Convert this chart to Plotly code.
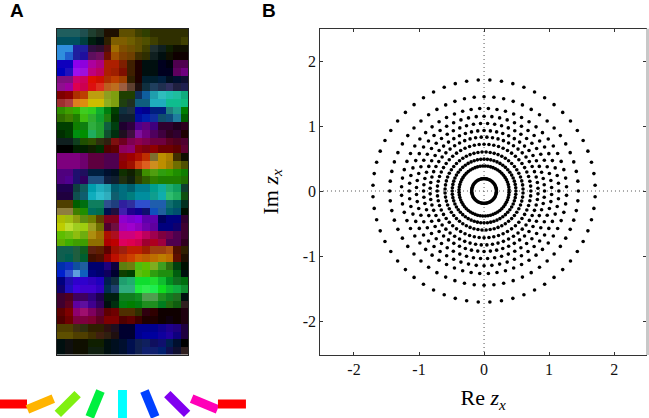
import plotly.graph_objects as go
import numpy as np

W, H = 649, 418

# Panel A: colour of each cell (3-digit hex)
map_rows = [
"266 266 266 255 243 232 210 210 650 650 440 340 330 330 330 330 330",
"056 056 056 044 021 011 320 860 860 760 650 550 440 330 330 330 440",
"39e 39e 22a 22a 314 313 511 a70 850 750 650 440 233 122 120 110 110",
"39e 26d 22a 21a 616 716 710 a50 840 740 430 330 122 011 110 100 100",
"10c 10c 90f 90e b0a b08 b20 b20 820 420 200 011 011 002 001 505 505",
"00c 21c a1f a1e c08 c06 b20 a20 810 420 200 011 011 002 002 606 708",
"818 818 d07 d06 e10 d10 b30 c40 a40 320 200 023 023 024 012 013 113",
"919 a0a e05 d05 e11 e32 c62 c72 a64 643 211 134 246 235 336 224 225",
"800 900 b30 c40 ca1 ca1 9a2 8a1 240 240 136 16a 2ab 3cc 2cb 2ca 1b8",
"a33 b44 e82 e91 dc0 dc0 9b2 8a1 241 232 168 168 2bc 2bc 1c9 1c9 1c8",
"390 4a0 3b0 4d2 3d2 1b3 081 040 134 234 00a 009 028 028 288 2a9 080",
"370 480 280 4c1 3b3 1a3 281 030 123 123 01a 02b 13a 157 158 28a 060",
"040 040 180 181 3b4 2a3 164 041 203 304 509 608 408 303 303 202 302",
"030 040 091 090 2b6 2a3 153 031 212 414 81a 708 506 404 302 303 200",
"122 122 142 250 350 331 321 811 702 805 905 805 704 704 602 502 503",
"000 000 020 020 120 030 500 600 906 907 901 801 900 700 700 600 603",
"808 808 808 707 604 604 505 505 901 a00 b10 c30 873 c90 b80 430 110",
"808 808 808 707 604 604 505 505 900 a10 d41 e62 d92 c90 a80 770 550",
"508 508 217 216 024 024 013 012 130 120 240 490 5a1 3a1 3a0 290 180",
"508 509 217 306 258 258 124 123 231 121 340 360 380 280 280 280 270",
"205 205 144 166 0ab 2bc 2ab 067 078 067 089 089 0a9 1ba 2b7 1a6 143",
"204 204 155 167 1bc 3cd 3bc 167 078 088 09a 09a 1a9 1bb 3c7 2b6 151",
"540 540 060 071 186 186 359 248 32a 33a 35d 35d 26b 26b 177 066 032",
"984 984 480 290 076 075 015 214 42b 209 109 117 15c 26a 067 057 010",
"bc0 ac1 9a1 691 780 640 802 802 90d 80d 80e 60b 60b 006 008 008 303",
"cd0 ce3 ad2 ad1 aa2 770 503 714 a0c a0d 90c 70b 60a 008 008 107 403",
"6c0 7c1 9c1 7b1 b91 a70 b10 b12 d08 d08 e07 c06 a05 804 705 505 403",
"6b0 4b0 4a0 4a0 970 970 b00 c00 e06 e05 d05 a03 b02 a04 505 505 302",
"165 165 264 162 621 620 600 a10 a21 c20 c20 a20 a41 a41 b51 510 320",
"165 065 264 063 410 510 900 c10 c30 d40 d60 c60 c70 c80 c70 610 210",
"03b 13c 15a 26a 007 007 208 104 681 781 5c1 6c0 8b2 4a2 371 041 010",
"02d 35d 6ae 16c 008 007 106 003 140 040 6c1 5c0 3a1 291 291 061 011",
"008 21b 30d 30d 30c 20c 025 134 2a7 2b7 1e3 1e3 2e3 1c3 092 172 071",
"107 21c 40e 40d 40d 30c 035 247 3b8 3b8 2f4 3f5 2f5 1e2 1c3 1b4 193",
"403 502 406 406 308 205 021 021 182 182 192 5a5 5a5 292 182 272 011",
"403 602 60a 61a 409 306 011 031 081 080 081 292 292 082 271 161 322",
"600 800 907 a17 806 604 600 700 530 530 330 301 300 100 100 100 201",
"500 700 804 804 803 602 800 800 500 600 400 200 200 100 101 100 201",
"540 540 431 331 320 320 311 212 003 003 009 009 009 109 209 208 204",
"650 650 540 540 430 421 321 211 003 003 009 00a 00a 10a 20a 108 204",
"011 111 110 110 120 120 011 012 013 015 125 126 116 117 025 013 000",
"011 111 110 110 121 121 011 012 013 015 125 127 127 027 115 113 322",
]

# Legend under panel A: orientation of each bar and its colour
bar_angles = [0, 22.5, 45, 67.5, 90, 112.5, 135, 157.5, 180]
bar_colors = ["#ff0000", "#ffb400", "#80f010", "#00f040", "#00ffff",
              "#0040ff", "#8000f0", "#ff00b8", "#ff0000"]

# Panel B: rings of points
ring_radii = [0.19, 0.385, 0.49, 0.60, 0.72, 0.83, 0.93, 1.04, 1.15, 1.27, 1.45, 1.71]
ring_phase = [0, 3, 0, 3, 0, 3, 0, 3, 0, 3, 0, 3]
ring_count = [60] * 12
tick_vals = [-2, -1, 0, 1, 2]
tick_text = ["-2", "-1", "0", "1", "2"]

image = [[[int(int(c[i], 16) * 17 * 0.93) for i in range(3)] for c in r.split()] for r in map_rows]

xs, ys = [], []
for r, p, n in zip(ring_radii, ring_phase, ring_count):
    a = np.deg2rad(p + np.arange(n) * 360 / n)
    xs += list(r * np.cos(a))
    ys += list(r * np.sin(a))

fig = go.Figure()

fig.add_trace(go.Image(z=image, xaxis="x2", yaxis="y2", hoverinfo="skip"))

fig.add_trace(go.Scatter(
    x=list(range(len(bar_angles))), y=[0] * len(bar_angles), mode="markers",
    xaxis="x3", yaxis="y3", cliponaxis=False, hoverinfo="skip",
    marker=dict(symbol="line-ew", size=20, angle=[-a for a in bar_angles],
                color=bar_colors, line=dict(width=9, color=bar_colors)),
))

for lx, ly in (([-2.6, 2.6], [0, 0]), ([0, 0], [-2.6, 2.6])):
    fig.add_trace(go.Scatter(x=lx, y=ly, mode="lines", hoverinfo="skip",
                             line=dict(color="#555555", width=1, dash="1px 3px")))

fig.add_trace(go.Scatter(x=xs, y=ys, mode="markers",
                         marker=dict(color="black", size=3.6, line=dict(width=0))))

tickfont = dict(family="Liberation Serif", size=16, color="#111111")
titlefont = dict(family="Liberation Serif", size=22, color="black")
main_y_dom = [(H - 355) / H, (H - 28.7) / H]
main_x_dom = [320.3 / W, 646 / W]
axis_common = dict(
    tickmode="array", tickvals=tick_vals, ticktext=tick_text, ticks="inside",
    ticklen=3, tickwidth=1, tickcolor="#333333", showgrid=False, zeroline=False,
    showline=True, linecolor="#333333", linewidth=1, mirror="ticks", tickfont=tickfont,
)

fig.update_layout(
    width=W, height=H, margin=dict(l=0, r=0, t=0, b=0),
    paper_bgcolor="white", plot_bgcolor="white", showlegend=False,
    xaxis=dict(domain=main_x_dom, range=[-2.518, 2.49], anchor="y",
               title=dict(text="Re <i>z<sub>x</sub></i>", font=titlefont, standoff=12), **axis_common),
    yaxis=dict(domain=main_y_dom, range=[-2.523, 2.497], anchor="x",
               title=dict(text="Im <i>z<sub>x</sub></i>", font=titlefont, standoff=18), **axis_common),
    xaxis2=dict(domain=[56 / W, 189 / W], range=[-0.5, 16.5], anchor="y2", visible=True,
                showticklabels=False, ticks="", showgrid=False, zeroline=False,
                showline=True, linecolor="#222222", linewidth=1, mirror=True),
    yaxis2=dict(domain=[(H - 354.7) / H, (H - 28.7) / H], range=[41.5, -0.5], anchor="x2",
                showticklabels=False, ticks="", showgrid=False, zeroline=False,
                showline=True, linecolor="#222222", linewidth=1, mirror=True),
    xaxis3=dict(domain=[0, 250 / W], range=[-0.475, 8.66], anchor="y3", visible=False),
    yaxis3=dict(domain=[0, 28 / H], range=[-1, 1], anchor="x3", visible=False),
    shapes=[dict(type="rect", xref="paper", yref="paper", x0=646 / W, x1=1,
                 y0=main_y_dom[0], y1=main_y_dom[1], fillcolor="#c8c8c8",
                 line=dict(width=0), layer="above")],
    annotations=[
        dict(text="<b>A</b>", xref="paper", yref="paper", x=17 / W, y=1 - 11 / H, showarrow=False,
             xanchor="center", yanchor="middle",
             font=dict(family="Liberation Sans", size=19, color="black")),
        dict(text="<b>B</b>", xref="paper", yref="paper", x=269 / W, y=1 - 11 / H, showarrow=False,
             xanchor="center", yanchor="middle",
             font=dict(family="Liberation Sans", size=19, color="black")),
    ],
)

fig.write_html("out.html", config={"displayModeBar": False},
               post_script="document.body.style.margin='0';document.body.style.overflow='hidden';")
